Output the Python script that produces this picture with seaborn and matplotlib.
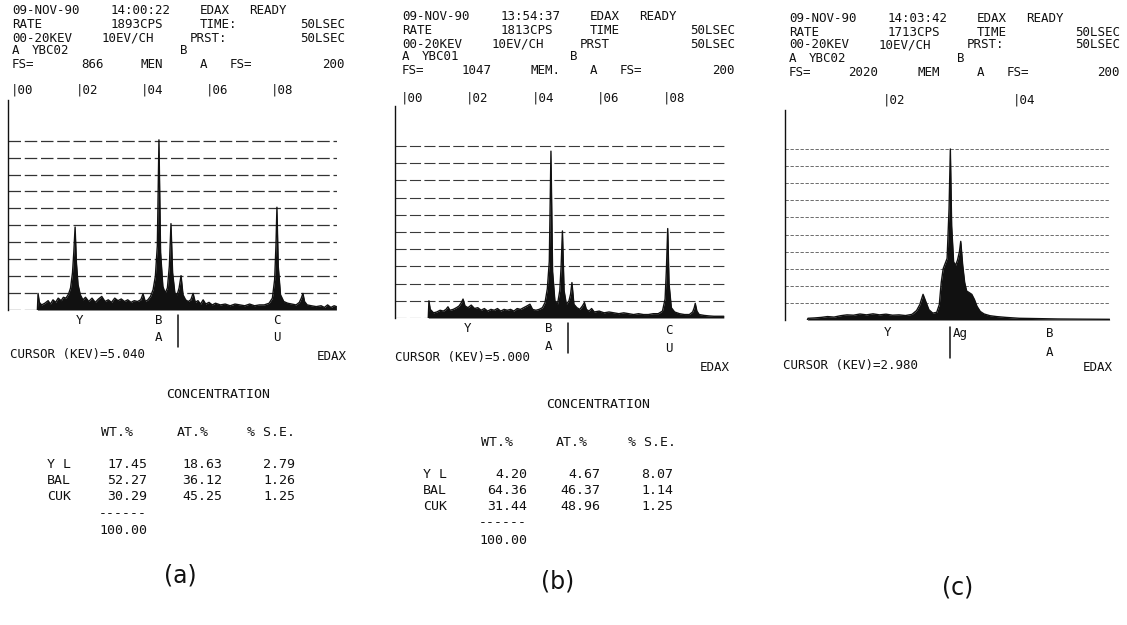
import matplotlib
matplotlib.use("Agg")
import matplotlib.pyplot as plt
import matplotlib.transforms as mtransforms
import pandas as pd
import seaborn as sns

# ------------------------------------------------------------------ data
# spectrum (a): energy (keV) and intensity (grid divisions, full scale = 10)
A_KEV = [0.72, 0.74, 0.78, 0.85, 0.95, 1.05, 1.12, 1.2, 1.28, 1.36, 1.45, 1.52, 1.6, 1.68, 1.74,
         1.80, 1.84, 1.88, 1.92, 1.97, 2.04, 2.12, 2.2, 2.3, 2.4, 2.5, 2.6, 2.7, 2.8, 2.9, 3.0,
         3.1, 3.2, 3.3, 3.4, 3.5, 3.6, 3.7, 3.8, 3.9, 3.97, 4.04, 4.12, 4.2, 4.28, 4.35, 4.41,
         4.46, 4.51, 4.58, 4.65, 4.72, 4.78, 4.83, 4.88, 4.95, 5.02, 5.08, 5.14, 5.2, 5.28, 5.36,
         5.44, 5.51, 5.58, 5.66, 5.74, 5.82, 5.9, 6.0, 6.1, 6.2, 6.35, 6.5, 6.65, 6.8, 6.95, 7.1,
         7.25, 7.4, 7.55, 7.7, 7.85, 7.95, 8.02, 8.06, 8.09, 8.13, 8.2, 8.3, 8.42, 8.55, 8.68,
         8.78, 8.84, 8.89, 8.94, 9.02, 9.15, 9.3, 9.45, 9.55, 9.65, 9.75, 9.85, 9.92]
A_INT = [0.0, 0.98, 0.45, 0.3, 0.4, 0.55, 0.35, 0.6, 0.45, 0.7, 0.55, 0.75, 0.7, 0.95, 1.3,
         2.2, 3.4, 4.9, 2.8, 1.5, 0.9, 0.6, 0.75, 0.5, 0.7, 0.45, 0.65, 0.8, 0.5, 0.6, 0.45,
         0.7, 0.55, 0.65, 0.5, 0.6, 0.45, 0.55, 0.5, 0.6, 0.95, 0.5, 0.6, 0.8, 1.2, 2.0, 3.8,
         10.05, 3.4, 1.4, 1.0, 1.3, 2.6, 5.1, 2.2, 1.0, 0.9, 1.3, 2.03, 0.9, 0.6, 0.5,
         0.6, 0.98, 0.45, 0.55, 0.35, 0.6, 0.35, 0.45, 0.3, 0.4, 0.3, 0.35, 0.25, 0.35, 0.3, 0.25,
         0.35, 0.25, 0.3, 0.3, 0.4, 0.7, 1.8, 3.8, 6.07, 2.6, 0.9, 0.5, 0.4, 0.35, 0.3,
         0.45, 0.7, 0.98, 0.5, 0.3, 0.25, 0.2, 0.25, 0.15, 0.3, 0.15, 0.25, 0.2]

# spectrum (b)
B_KEV = [0.74, 0.76, 0.80, 0.9, 1.0, 1.1, 1.2, 1.28, 1.34, 1.4, 1.5, 1.6, 1.68, 1.75, 1.80,
         1.86, 1.95, 2.05, 2.15, 2.25, 2.35, 2.45, 2.55, 2.65, 2.75, 2.85, 2.95, 3.05, 3.15,
         3.25, 3.35, 3.45, 3.55, 3.65, 3.75, 3.84, 3.92, 4.02, 4.12, 4.22, 4.3, 4.37, 4.43,
         4.48, 4.53, 4.6, 4.68, 4.75, 4.79, 4.83, 4.88, 4.95, 5.03, 5.08, 5.12, 5.18, 5.27,
         5.36, 5.44, 5.5, 5.56, 5.64, 5.72, 5.8, 5.95, 6.1, 6.25, 6.4, 6.55, 6.7, 6.85, 7.0,
         7.15, 7.3, 7.45, 7.6, 7.75, 7.88, 7.96, 8.0, 8.04, 8.08, 8.15, 8.25, 8.4, 8.55, 8.7,
         8.8, 8.85, 8.88, 8.93, 9.0, 9.15, 9.3, 9.45, 9.6, 9.75]
B_INT = [0.0, 1.0, 0.5, 0.3, 0.35, 0.45, 0.4, 0.5, 0.65, 0.45, 0.5, 0.6, 0.7, 0.9, 1.1,
         0.7, 0.6, 0.75, 0.55, 0.6, 0.45, 0.55, 0.4, 0.5, 0.45, 0.55, 0.4, 0.5, 0.45,
         0.5, 0.4, 0.55, 0.5, 0.6, 0.7, 0.8, 0.5, 0.45, 0.5, 0.6, 0.9, 1.7, 3.3,
         9.7, 2.7, 1.0, 0.8, 1.6, 3.0, 5.06, 1.6, 0.8, 1.0, 1.4, 2.06, 0.8, 0.6,
         0.5, 0.7, 0.9, 0.5, 0.4, 0.55, 0.35, 0.4, 0.3, 0.35, 0.3, 0.25, 0.3, 0.25, 0.2,
         0.25, 0.2, 0.2, 0.25, 0.25, 0.4, 1.1, 2.8, 5.2, 2.0, 0.6, 0.35, 0.25, 0.2, 0.2,
         0.35, 0.6, 0.85, 0.4, 0.2, 0.15, 0.12, 0.1, 0.1, 0.1]

# spectrum (c)
C_KEV = [0.79, 0.80, 0.9, 1.0, 1.1, 1.2, 1.3, 1.4, 1.5, 1.6, 1.7, 1.8, 1.9, 2.0, 2.1, 2.2,
         2.3, 2.4, 2.47, 2.52, 2.57, 2.61, 2.66, 2.72, 2.78, 2.82, 2.85, 2.88, 2.91, 2.94,
         2.97, 2.99, 3.01, 3.04, 3.07, 3.10, 3.13, 3.15, 3.18, 3.21, 3.24, 3.28, 3.32, 3.36,
         3.40, 3.45, 3.51, 3.6, 3.7, 3.85, 4.05, 4.35, 4.65, 5.0, 5.44]
C_INT = [0.0, 0.1, 0.12, 0.15, 0.2, 0.17, 0.25, 0.3, 0.28, 0.35, 0.3, 0.36, 0.3, 0.34, 0.28, 0.3,
         0.26, 0.33, 0.55, 0.9, 1.5, 1.1, 0.6, 0.4, 0.45, 0.9, 2.2, 3.0, 3.3, 3.6,
         6.5, 10.0, 5.5, 3.4, 3.2, 3.5, 4.0, 4.6, 3.2, 2.2, 1.7, 1.6, 1.5, 1.2,
         0.8, 0.5, 0.35, 0.25, 0.2, 0.15, 0.1, 0.08, 0.06, 0.05, 0.04]

CURSOR_KEV = [5.04, 5.00, 2.98]
TICKS_A = [0, 2, 4, 6, 8]
TICKS_B = [0, 2, 4, 6, 8]
TICKS_C = [2, 4]

HEADER_A = [["09-NOV-90", "14:00:22", "EDAX", "READY"],
            ["RATE", "1893CPS", "TIME:", "50LSEC"],
            ["00-20KEV", "10EV/CH", "PRST:", "50LSEC"],
            ["A", "YBC02", "B"],
            ["FS=", "866", "MEN", "A", "FS=", "200"]]
HEADER_B = [["09-NOV-90", "13:54:37", "EDAX", "READY"],
            ["RATE", "1813CPS", "TIME", "50LSEC"],
            ["00-20KEV", "10EV/CH", "PRST", "50LSEC"],
            ["A", "YBC01", "B"],
            ["FS=", "1047", "MEM.", "A", "FS=", "200"]]
HEADER_C = [["09-NOV-90", "14:03:42", "EDAX", "READY"],
            ["RATE", "1713CPS", "TIME", "50LSEC"],
            ["00-20KEV", "10EV/CH", "PRST:", "50LSEC"],
            ["A", "YBC02", "B"],
            ["FS=", "2020", "MEM", "A", "FS=", "200"]]

ELEMENTS = ["Y L", "BAL", "CUK"]
TABLE_HEAD = ["WT.%", "AT.%", "% S.E."]
A_WT = [17.45, 52.27, 30.29]
A_AT = [18.63, 36.12, 45.25]
A_SE = [2.79, 1.26, 1.25]
A_TOTAL = 100.00
B_WT = [4.20, 64.36, 31.44]
B_AT = [4.67, 46.37, 48.96]
B_SE = [8.07, 1.14, 1.25]
B_TOTAL = 100.00

# ------------------------------------------------------------------ style
sns.set_theme(style="white")
MONO = ["DejaVu Sans Mono", "DejaVu Sans"]
plt.rcParams["font.family"] = MONO
INK = "#111111"
W, H = 1127, 625
fig = plt.figure(figsize=(W / 100, H / 100), dpi=100)
fig.patch.set_facecolor("white")
FS_HEAD = 9.0


def ftext(x, y, s, ha="left", va="center", size=FS_HEAD, **kw):
    fig.text(x / W, 1 - y / H, s, ha=ha, va=va, fontsize=size, color=INK,
             family=MONO, **kw)


def panel(kev, inten, box, kev0, ppk, fs_px, dash, glw, gcol):
    left, right, top, base = box
    ax = fig.add_axes([left / W, 1 - base / H, (right - left) / W, (base - top) / H])
    ax.set_xlim((left - kev0) / ppk, (right - kev0) / ppk)
    ax.set_ylim(0, 10 * (base - top) / (base - fs_px))
    for k in range(11):
        ax.axhline(k, color=gcol, lw=glw, dashes=dash, zorder=1)
    df = pd.DataFrame({"kev": kev, "intensity": inten})
    ax.fill_between(df["kev"], df["intensity"], 0, color=INK, lw=0, zorder=2)
    sns.lineplot(data=df, x="kev", y="intensity", ax=ax, color=INK, lw=1.0,
                 estimator=None, sort=False, zorder=3)
    ax.set_xticks([])
    ax.set_yticks([])
    ax.set_xlabel("")
    ax.set_ylabel("")
    for s in ["top", "right", "bottom"]:
        ax.spines[s].set_visible(False)
    ax.spines["left"].set_color(INK)
    ax.spines["left"].set_linewidth(1.0)
    ax.patch.set_alpha(0)
    return ax


def blend(ax):
    return mtransforms.blended_transform_factory(ax.transData, fig.transFigure)


def header(rows, cols, x0, ys, xr, pitch=9.9):
    for words, cc, y in zip(rows, cols, ys):
        for w, c in zip(words, cc):
            if c is None:
                ftext(xr, y, w, ha="right")
            else:
                ftext(x0 + c * pitch, y, w)


def ticks(ax, tk, y):
    tr = mtransforms.offset_copy(blend(ax), fig=fig, x=-3.7, y=0, units="dots")
    for t in tk:
        ax.text(t, 1 - y / H, "|%02d" % t, transform=tr, ha="left", va="center",
                fontsize=FS_HEAD, color=INK, family=MONO)


def flabel(ax, kev, y, s, ha="center"):
    ax.text(kev, 1 - y / H, s, transform=blend(ax), ha=ha, va="center",
            fontsize=FS_HEAD, color=INK, family=MONO)


def cursor(ax, kev, y1, y2):
    ax.plot([kev, kev], [1 - y1 / H, 1 - y2 / H], transform=blend(ax), color=INK,
            lw=1.1, clip_on=False)


COLS_A = [[0, 10, 19, 24], [0, 10, 19, None], [0, 9, 18, None], [0, 2, 17],
          [0, 7, 13, 19, 22, None]]
COLS_BC = [[0, 10, 19, 24], [0, 10, 19, None], [0, 9, 18, None], [0, 2, 17],
           [0, 6, 13, 19, 22, None]]

# ---------------- panel (a)
axa = panel(A_KEV, A_INT, (8, 337, 100, 310), 14, 32.5, 140.7, (10, 3), 0.9, "#333333")
header(HEADER_A, COLS_A, 12, [10, 24, 38, 51, 65], 345)
ticks(axa, TICKS_A, 90)
for kv, y, s in [(2.03, 320, "Y"), (4.46, 320, "B"), (4.46, 338, "A"),
                 (8.09, 320, "C"), (8.09, 338, "U")]:
    flabel(axa, kv, y, s)
cursor(axa, CURSOR_KEV[0], 315, 347)
ftext(10, 355, "CURSOR (KEV)=%05.3f" % CURSOR_KEV[0])
ftext(347, 356, "EDAX", ha="right")

# ---------------- panel (b)
axb = panel(B_KEV, B_INT, (395, 725, 106, 318), 404, 32.8, 146, (10, 3), 0.8, "#3a3a3a")
header(HEADER_B, COLS_BC, 402, [16, 30, 44, 57, 71], 735)
ticks(axb, TICKS_B, 98)
for kv, y, s in [(1.95, 328, "Y"), (4.42, 328, "B"), (4.42, 347, "A"),
                 (8.08, 330, "C"), (8.08, 348, "U")]:
    flabel(axb, kv, y, s)
cursor(axb, CURSOR_KEV[1], 323, 353)
ftext(395, 358, "CURSOR (KEV)=%05.3f" % CURSOR_KEV[1])
ftext(730, 367, "EDAX", ha="right")

# ---------------- panel (c)
axc = panel(C_KEV, C_INT, (785, 1110, 110, 320), 756, 65.0, 149, (4, 2), 0.6, "#555555")
header(HEADER_C, COLS_BC, 789, [18, 32, 45, 58, 72], 1120)
ticks(axc, TICKS_C, 100)
for kv, y, s, ha in [(2.02, 332, "Y", "center"), (3.03, 333, "Ag", "left"),
                     (4.52, 333, "B", "center"), (4.52, 352, "A", "center")]:
    flabel(axc, kv, y, s, ha=ha)
cursor(axc, CURSOR_KEV[2], 327, 358)
ftext(783, 365, "CURSOR (KEV)=%05.3f" % CURSOR_KEV[2])
ftext(1113, 367, "EDAX", ha="right")


# ---------------- concentration tables
def table(cx, y_title, y_head, head_x, ys, lab_x, col_r, wt, at, se, total, y_dash, y_tot):
    ftext(cx, y_title, "CONCENTRATION", ha="center", size=9.5)
    for hx, h in zip(head_x, TABLE_HEAD):
        ftext(hx, y_head, h, ha="center", size=9.5)
    for y, el, a, b, c in zip(ys, ELEMENTS, wt, at, se):
        ftext(lab_x, y, el, size=9.5)
        for xr, v in zip(col_r, (a, b, c)):
            ftext(xr, y, "%.2f" % v, ha="right", size=9.5)
    ftext(col_r[0], y_dash, "------", ha="right", size=9.5)
    ftext(col_r[0], y_tot, "%.2f" % total, ha="right", size=9.5)


table(218, 394, 432, [117, 193, 271], [464, 480, 496], 47, [147, 222, 295],
      A_WT, A_AT, A_SE, A_TOTAL, 514, 531)
table(598, 405, 442, [497, 572, 652], [474, 490, 506], 423, [527, 600, 673],
      B_WT, B_AT, B_SE, B_TOTAL, 523, 541)

# ---------------- panel captions
for x, y, s in [(180, 575, "(a)"), (558, 582, "(b)"), (958, 587, "(c)")]:
    fig.text(x / W, 1 - y / H, s, ha="center", va="center", fontsize=17, color=INK,
             family=["Liberation Sans Narrow", "DejaVu Sans"])

fig.savefig("out.png", dpi=100, facecolor="white")
